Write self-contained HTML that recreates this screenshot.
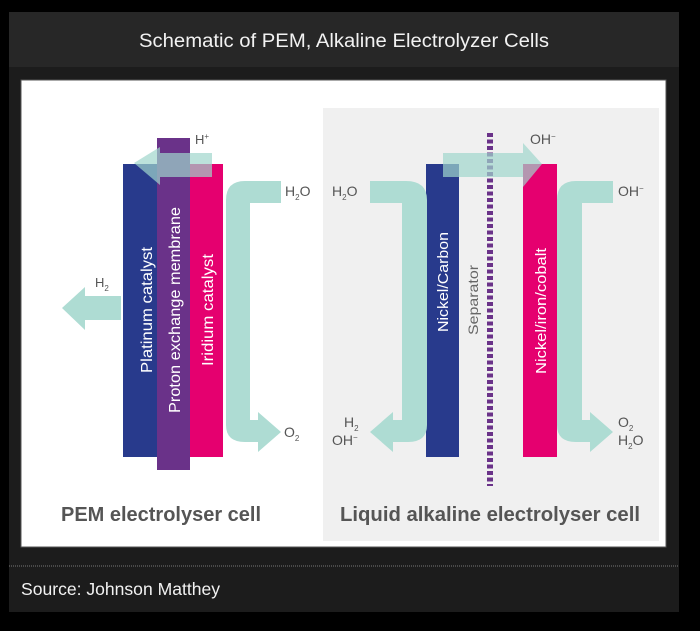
<!DOCTYPE html>
<html><head><style>
body{margin:0;background:#000;width:700px;height:626px;overflow:hidden;font-family:"Liberation Sans",sans-serif}
</style></head><body>
<svg width="700" height="626" viewBox="0 0 700 626" xmlns="http://www.w3.org/2000/svg" font-family="Liberation Sans, sans-serif">
<rect x="0" y="0" width="700" height="626" fill="#000"/>
<rect x="9" y="12" width="670" height="600" fill="#1c1c1c"/>
<rect x="9" y="12" width="670" height="55" fill="#272727"/>
<text x="344" y="47" fill="#f2f2f2" font-size="19" text-anchor="middle" textLength="410" lengthAdjust="spacingAndGlyphs">Schematic of PEM, Alkaline Electrolyzer Cells</text>
<rect x="21" y="80" width="645" height="467" fill="#fff" stroke="#555" stroke-width="1"/>
<rect x="323" y="108" width="336" height="433" fill="#f0f0f0"/>
<line x1="9" y1="566" x2="679" y2="566" stroke="#777" stroke-width="1" stroke-dasharray="1,1"/>
<text x="21" y="595" fill="#f2f2f2" font-size="17.5" textLength="199" lengthAdjust="spacingAndGlyphs">Source: Johnson Matthey</text>

<!-- PEM bars -->
<rect x="123" y="164" width="34" height="293" fill="#283a8c"/>
<rect x="157" y="138" width="33" height="332" fill="#6a3289"/>
<rect x="190" y="164" width="33" height="293" fill="#e5006f"/>
<polygon points="212,153 160,153 160,147 134,163 160,185 160,177 212,177" fill="#9fd6cc" opacity="0.7"/>
<polygon points="121,296 85,296 85,287 62,308 85,330 85,320 121,320" fill="#aedcd3"/>
<path d="M281,181 L245,181 Q226,181 226,200 L226,425 Q226,442 245,442 L258,442 L258,452 L281,432 L258,412 L258,420 L250,420 L250,203 L281,203 Z" fill="#aedcd3"/>
<g transform="translate(146,310) rotate(-90)"><text x="0" y="6" fill="#fff" font-size="16" text-anchor="middle" textLength="126" lengthAdjust="spacingAndGlyphs">Platinum catalyst</text></g>
<g transform="translate(174,310) rotate(-90)"><text x="0" y="6" fill="#fff" font-size="16" text-anchor="middle" textLength="206" lengthAdjust="spacingAndGlyphs">Proton exchange membrane</text></g>
<g transform="translate(207,310) rotate(-90)"><text x="0" y="6" fill="#fff" font-size="16" text-anchor="middle" textLength="112" lengthAdjust="spacingAndGlyphs">Iridium catalyst</text></g>
<text x="195" y="144" fill="#555" font-size="13">H<tspan font-size="8" dy="-5">+</tspan></text>
<text x="95" y="287" fill="#555" font-size="13">H<tspan font-size="8" dy="4">2</tspan></text>
<text x="285" y="196" fill="#555" font-size="14">H<tspan font-size="8" dy="4">2</tspan><tspan dy="-4">O</tspan></text>
<text x="284" y="437" fill="#555" font-size="14">O<tspan font-size="8" dy="4">2</tspan></text>

<!-- Alkaline -->
<rect x="426" y="164" width="33" height="293" fill="#283a8c"/>
<rect x="523" y="164" width="34" height="293" fill="#e5006f"/>
<line x1="490" y1="133" x2="490" y2="486" stroke="#6a3289" stroke-width="6" stroke-dasharray="4,2.5"/>
<polygon points="443,153 523,153 523,143 542,164 523,187 523,177 443,177" fill="#9fd6cc" opacity="0.7"/>
<path d="M370,181 L406,181 Q427,181 427,200 L427,425 Q427,442 408,442 L393,442 L393,452 L370,432 L393,412 L393,420 L402,420 L402,203 L370,203 Z" fill="#aedcd3"/>
<path d="M613,181 L576,181 Q557,181 557,200 L557,425 Q557,442 576,442 L590,442 L590,452 L613,432 L590,412 L590,420 L582,420 L582,203 L613,203 Z" fill="#aedcd3"/>
<g transform="translate(442,282) rotate(-90)"><text x="0" y="6" fill="#fff" font-size="15" text-anchor="middle" textLength="100" lengthAdjust="spacingAndGlyphs">Nickel/Carbon</text></g>
<g transform="translate(473,300) rotate(-90)"><text x="0" y="5" fill="#666" font-size="14" text-anchor="middle" textLength="70" lengthAdjust="spacingAndGlyphs">Separator</text></g>
<g transform="translate(540,311) rotate(-90)"><text x="0" y="6" fill="#fff" font-size="15" text-anchor="middle" textLength="126" lengthAdjust="spacingAndGlyphs">Nickel/iron/cobalt</text></g>
<text x="332" y="196" fill="#555" font-size="14">H<tspan font-size="8" dy="4">2</tspan><tspan dy="-4">O</tspan></text>
<text x="530" y="144" fill="#555" font-size="14">OH<tspan font-size="8" dy="-5">−</tspan></text>
<text x="618" y="196" fill="#555" font-size="14">OH<tspan font-size="8" dy="-5">−</tspan></text>
<text x="344" y="427" fill="#555" font-size="14">H<tspan font-size="8" dy="4">2</tspan></text>
<text x="332" y="445" fill="#555" font-size="14">OH<tspan font-size="8" dy="-5">−</tspan></text>
<text x="618" y="427" fill="#555" font-size="14">O<tspan font-size="8" dy="4">2</tspan></text>
<text x="618" y="445" fill="#555" font-size="14">H<tspan font-size="8" dy="4">2</tspan><tspan dy="-4">O</tspan></text>

<text x="161" y="521" fill="#555" font-size="20" font-weight="bold" text-anchor="middle" textLength="200" lengthAdjust="spacingAndGlyphs">PEM electrolyser cell</text>
<text x="490" y="521" fill="#555" font-size="20" font-weight="bold" text-anchor="middle" textLength="300" lengthAdjust="spacingAndGlyphs">Liquid alkaline electrolyser cell</text>
</svg>
</body></html>
